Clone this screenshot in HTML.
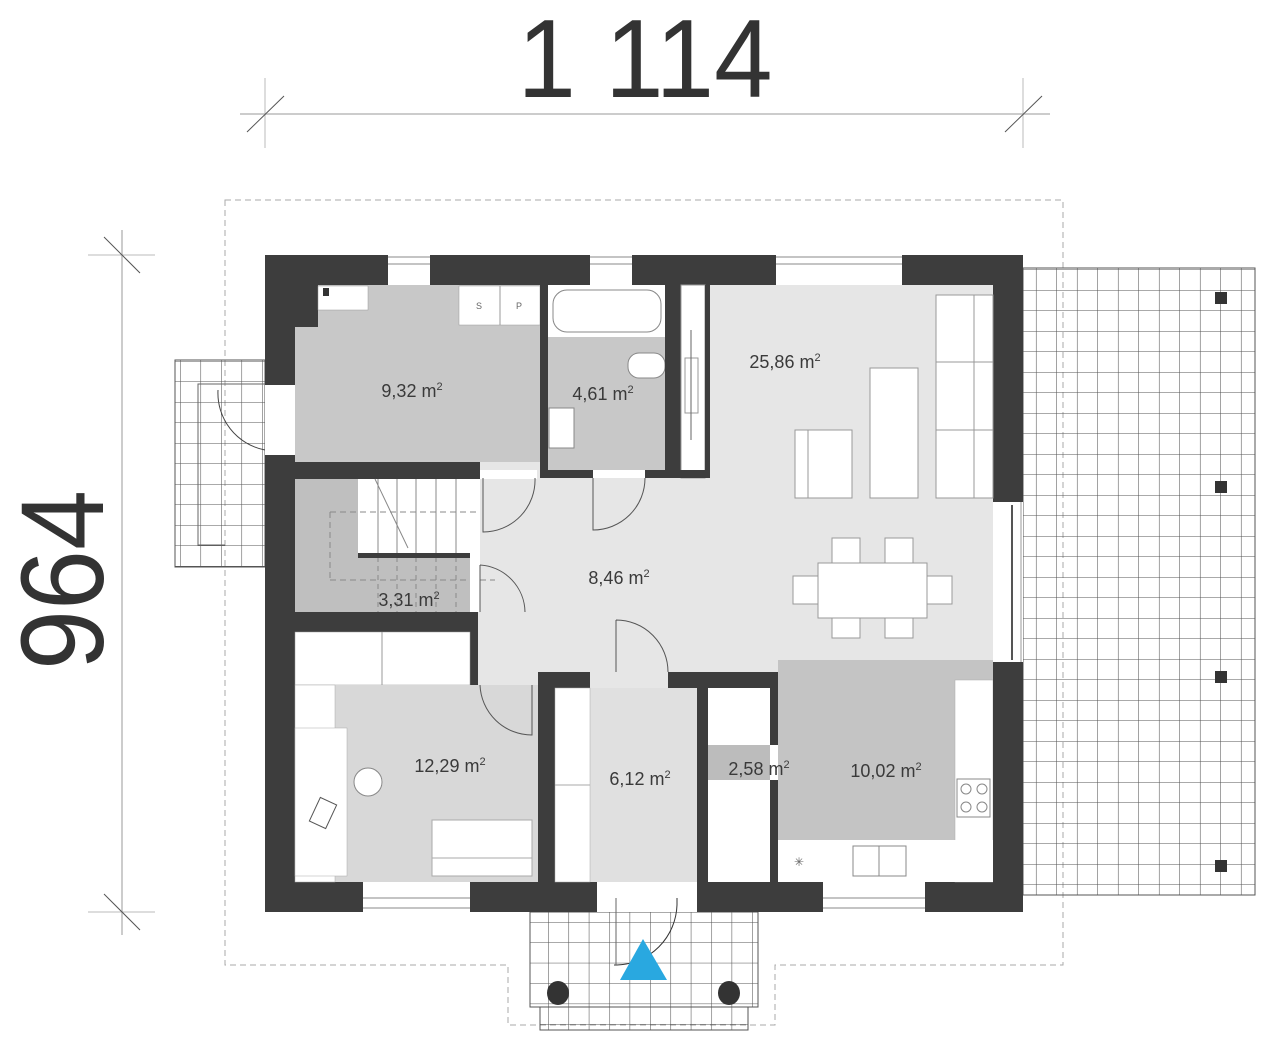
<!DOCTYPE html>
<html><head><meta charset="utf-8"><style>
html,body{margin:0;padding:0;background:#fff;}
svg{display:block;font-family:"Liberation Sans",sans-serif;}
</style></head><body>
<svg width="1280" height="1049" viewBox="0 0 1280 1049" xmlns="http://www.w3.org/2000/svg">
<defs>
<pattern id="g" x="1016" y="270" width="20.5" height="20.5" patternUnits="userSpaceOnUse">
<path d="M20.5 0V20.5M0 20.5H20.5" stroke="#555" stroke-width="1.1" fill="none"/>
</pattern>
<pattern id="g2" x="180" y="361" width="20.5" height="20.5" patternUnits="userSpaceOnUse">
<path d="M0 0V20.5M0 0H20.5" stroke="#555" stroke-width="1.1" fill="none"/>
</pattern>
<pattern id="g3" x="548" y="922" width="20.4" height="20.4" patternUnits="userSpaceOnUse">
<path d="M0 0V20.4M0 0H20.4" stroke="#555" stroke-width="1.1" fill="none"/>
</pattern>
</defs>
<!-- dimensions -->
<text x="645" y="97" font-size="111" text-anchor="middle" fill="#333" textLength="255" lengthAdjust="spacingAndGlyphs">1 114</text>
<line x1="240" y1="114" x2="1050" y2="114" stroke="#ccc" stroke-width="2"/>
<line x1="265" y1="78" x2="265" y2="148" stroke="#bbb"/>
<line x1="1023" y1="78" x2="1023" y2="148" stroke="#bbb"/>
<line x1="247" y1="132" x2="284" y2="96" stroke="#555"/>
<line x1="1005" y1="132" x2="1042" y2="96" stroke="#555"/>
<text transform="translate(103,580) rotate(-90)" font-size="118" text-anchor="middle" fill="#333" textLength="180" lengthAdjust="spacingAndGlyphs">964</text>
<line x1="122" y1="230" x2="122" y2="935" stroke="#ccc" stroke-width="2"/>
<line x1="88" y1="255" x2="155" y2="255" stroke="#bbb"/>
<line x1="88" y1="912" x2="155" y2="912" stroke="#bbb"/>
<line x1="104" y1="237" x2="140" y2="273" stroke="#555"/>
<line x1="104" y1="894" x2="140" y2="930" stroke="#555"/>
<!-- dashed roof outline -->
<path d="M225 200H1063V965H775V1025H508V965H225Z" fill="none" stroke="#aaa" stroke-dasharray="6,4"/>
<!-- terraces -->
<rect x="1023" y="268" width="232" height="627" fill="url(#g)" stroke="#555"/>
<rect x="175" y="360" width="90" height="207" fill="url(#g2)" stroke="#555"/>
<path d="M265 384H198V545H225" fill="none" stroke="#666"/>
<path d="M218 390A58 58 0 0 0 265 450" fill="none" stroke="#444"/>
<rect x="530" y="912" width="228" height="95" fill="url(#g3)" stroke="#555"/>
<rect x="540" y="1007" width="208" height="23" fill="url(#g3)" stroke="#555"/>
<g fill="#333">
<rect x="1215" y="292" width="12" height="12"/><rect x="1215" y="481" width="12" height="12"/>
<rect x="1215" y="671" width="12" height="12"/><rect x="1215" y="860" width="12" height="12"/>
<ellipse cx="558" cy="993" rx="11" ry="12"/><ellipse cx="729" cy="993" rx="11" ry="12"/>
</g>
<!-- house outer walls -->
<rect x="265" y="255" width="758" height="657" fill="#3d3d3d"/>
<rect x="295" y="285" width="698" height="597" fill="#e6e6e6"/>
<!-- utility -->
<rect x="295" y="285" width="245" height="177" fill="#c8c8c8"/>
<rect x="295" y="285" width="23" height="42" fill="#3d3d3d"/>
<rect x="318" y="286" width="50" height="24" fill="#fff" stroke="#999" stroke-width=".5"/>
<rect x="323" y="288" width="6" height="8" fill="#333"/>
<rect x="459" y="286" width="81" height="39" fill="#fff" stroke="#999" stroke-width=".5"/>
<line x1="500" y1="286" x2="500" y2="325" stroke="#999"/>
<text x="479" y="309" font-size="9" fill="#666" text-anchor="middle">S</text>
<text x="519" y="309" font-size="9" fill="#666" text-anchor="middle">P</text>
<rect x="265" y="385" width="30" height="70" fill="#fff"/>
<rect x="295" y="462" width="185" height="17" fill="#3d3d3d"/>
<!-- bathroom -->
<rect x="540" y="285" width="8" height="193" fill="#3d3d3d"/>
<rect x="548" y="285" width="117" height="185" fill="#c8c8c8"/>
<rect x="548" y="285" width="117" height="52" fill="#fff"/>
<rect x="553" y="290" width="108" height="42" rx="14" fill="#fff" stroke="#888"/>
<rect x="628" y="353" width="37" height="25" rx="11" fill="#fff" stroke="#888"/>
<rect x="549" y="408" width="25" height="40" fill="#fff" stroke="#888"/>
<rect x="665" y="285" width="16" height="193" fill="#3d3d3d"/>
<rect x="681" y="285" width="24" height="193" fill="#fff" stroke="#999"/>
<rect x="685" y="358" width="13" height="55" fill="#fff" stroke="#999"/>
<line x1="691" y1="330" x2="691" y2="440" stroke="#666"/>
<rect x="705" y="285" width="5" height="193" fill="#3d3d3d"/>
<rect x="540" y="470" width="170" height="8" fill="#3d3d3d"/>
<rect x="593" y="470" width="52" height="8" fill="#fff"/>
<rect x="480" y="470" width="57" height="9" fill="#fff"/>
<path d="M593 478V530A52 52 0 0 0 645 478" fill="none" stroke="#555"/>
<path d="M483 478V532A52 52 0 0 0 535 478" fill="none" stroke="#555"/>
<!-- stairs -->
<rect x="295" y="479" width="185" height="133" fill="#bfbfbf"/>
<rect x="358" y="479" width="122" height="74" fill="#fff"/>
<g stroke="#888" stroke-width="1">
<line x1="378" y1="479" x2="378" y2="553"/><line x1="397" y1="479" x2="397" y2="553"/>
<line x1="416" y1="479" x2="416" y2="553"/><line x1="436" y1="479" x2="436" y2="553"/>
<line x1="456" y1="479" x2="456" y2="553"/>
<line x1="375" y1="479" x2="408" y2="548"/>
<line x1="330" y1="512" x2="480" y2="512" stroke-dasharray="6,4"/>
<line x1="330" y1="512" x2="330" y2="580" stroke-dasharray="6,4"/>
<line x1="330" y1="580" x2="495" y2="580" stroke-dasharray="6,4"/>
<line x1="378" y1="557" x2="378" y2="612" stroke-dasharray="5,4"/>
<line x1="397" y1="557" x2="397" y2="612" stroke-dasharray="5,4"/>
<line x1="416" y1="557" x2="416" y2="612" stroke-dasharray="5,4"/>
<line x1="436" y1="557" x2="436" y2="612" stroke-dasharray="5,4"/>
<line x1="456" y1="557" x2="456" y2="612" stroke-dasharray="5,4"/>
</g>
<rect x="358" y="553" width="112" height="5" fill="#3d3d3d"/>
<rect x="470" y="553" width="10" height="59" fill="#fff"/>
<path d="M480 565V612M480 565A48 48 0 0 1 525 612" fill="none" stroke="#555"/>
<rect x="265" y="612" width="212" height="20" fill="#3d3d3d"/>
<rect x="470" y="612" width="8" height="73" fill="#3d3d3d"/>
<rect x="295" y="632" width="175" height="53" fill="#fff" stroke="#999" stroke-width=".5"/>
<line x1="382" y1="632" x2="382" y2="685" stroke="#999"/>
<!-- office -->
<rect x="295" y="685" width="243" height="197" fill="#d8d8d8"/>
<rect x="295" y="685" width="40" height="197" fill="#fff" stroke="#aaa" stroke-width=".5"/>
<rect x="295" y="728" width="52" height="148" fill="#fff" stroke="#aaa" stroke-width=".5"/>
<circle cx="368" cy="782" r="14" fill="#fff" stroke="#888"/>
<rect x="314" y="800" width="18" height="26" fill="#fff" stroke="#555" transform="rotate(25 323 813)"/>
<rect x="432" y="820" width="100" height="56" fill="#fff" stroke="#aaa"/>
<line x1="432" y1="858" x2="532" y2="858" stroke="#aaa"/>
<path d="M480 685A52 52 0 0 0 532 735V685" fill="none" stroke="#555"/>
<rect x="538" y="672" width="17" height="210" fill="#3d3d3d"/>
<rect x="538" y="672" width="52" height="16" fill="#3d3d3d"/>
<rect x="668" y="672" width="110" height="16" fill="#3d3d3d"/>
<path d="M616 620V672M616 620A52 52 0 0 1 668 672" fill="none" stroke="#555"/>
<!-- 6,12 -->
<rect x="555" y="688" width="142" height="194" fill="#e0e0e0"/>
<rect x="555" y="688" width="35" height="194" fill="#fff" stroke="#aaa" stroke-width=".5"/>
<line x1="555" y1="785" x2="590" y2="785" stroke="#aaa"/>
<rect x="697" y="672" width="11" height="210" fill="#3d3d3d"/>
<!-- 2,58 -->
<rect x="708" y="688" width="62" height="194" fill="#fff"/>
<rect x="708" y="745" width="62" height="35" fill="#bcbcbc"/>
<rect x="770" y="688" width="8" height="194" fill="#3d3d3d"/>
<rect x="770" y="745" width="8" height="35" fill="#fff"/>
<path d="M778 745H825A45 45 0 0 1 778 790" fill="none" stroke="#555"/>
<!-- kitchen -->
<rect x="778" y="660" width="215" height="222" fill="#c4c4c4"/>
<rect x="955" y="680" width="38" height="202" fill="#fff" stroke="#aaa" stroke-width=".5"/>
<rect x="778" y="840" width="215" height="42" fill="#fff"/>
<rect x="853" y="846" width="53" height="30" fill="#fff" stroke="#888"/>
<line x1="879" y1="846" x2="879" y2="876" stroke="#888"/>
<rect x="957" y="779" width="33" height="38" fill="#fff" stroke="#888"/>
<circle cx="966" cy="789" r="5" fill="none" stroke="#888"/><circle cx="982" cy="789" r="5" fill="none" stroke="#888"/>
<circle cx="966" cy="807" r="5" fill="none" stroke="#888"/><circle cx="982" cy="807" r="5" fill="none" stroke="#888"/>
<text x="799" y="866" font-size="12" fill="#666" text-anchor="middle">✳</text>
<rect x="993" y="660" width="30" height="252" fill="#3d3d3d"/>
<!-- living furniture -->
<rect x="936" y="295" width="57" height="203" fill="#fff" stroke="#999"/>
<line x1="936" y1="362" x2="993" y2="362" stroke="#999"/><line x1="936" y1="430" x2="993" y2="430" stroke="#999"/>
<line x1="974" y1="295" x2="974" y2="498" stroke="#999"/>
<rect x="870" y="368" width="48" height="130" fill="#fff" stroke="#999"/>
<rect x="795" y="430" width="57" height="68" fill="#fff" stroke="#999"/>
<line x1="808" y1="430" x2="808" y2="498" stroke="#999"/>
<g fill="#fff" stroke="#999">
<rect x="832" y="538" width="28" height="30"/><rect x="885" y="538" width="28" height="30"/>
<rect x="832" y="608" width="28" height="30"/><rect x="885" y="608" width="28" height="30"/>
<rect x="793" y="576" width="30" height="28"/><rect x="922" y="576" width="30" height="28"/>
<rect x="818" y="563" width="109" height="55"/>
</g>
<rect x="993" y="502" width="30" height="160" fill="#fff"/>
<line x1="1012" y1="505" x2="1012" y2="660" stroke="#555" stroke-width="2"/>
<line x1="1021" y1="502" x2="1021" y2="662" stroke="#999"/>
<!-- windows -->
<g fill="#fff" stroke="#888">
<rect x="388" y="255" width="42" height="30" stroke="none"/><line x1="388" y1="264" x2="430" y2="264"/><line x1="388" y1="257" x2="430" y2="257"/>
<rect x="590" y="255" width="42" height="30" stroke="none"/><line x1="590" y1="264" x2="632" y2="264"/><line x1="590" y1="257" x2="632" y2="257"/>
<rect x="776" y="255" width="126" height="30" stroke="none"/><line x1="776" y1="264" x2="902" y2="264"/><line x1="776" y1="257" x2="902" y2="257"/>
<rect x="363" y="882" width="107" height="30" stroke="none"/><line x1="363" y1="898" x2="470" y2="898"/><line x1="363" y1="908" x2="470" y2="908"/>
<rect x="823" y="882" width="102" height="30" stroke="none"/><line x1="823" y1="898" x2="925" y2="898"/><line x1="823" y1="908" x2="925" y2="908"/>
<rect x="597" y="882" width="100" height="30" stroke="none"/>
</g>
<path d="M677 898V905A62 62 0 0 1 617 965H614" fill="none" stroke="#333"/>
<line x1="616" y1="898" x2="616" y2="965" stroke="#666"/>
<polygon points="643,939 620,980 667,980" fill="#29a8e0"/>
<!-- labels -->
<g font-size="18" fill="#3a3a3a" text-anchor="middle">
<text x="412" y="397">9,32 m<tspan font-size="11" dy="-7">2</tspan></text>
<text x="603" y="400">4,61 m<tspan font-size="11" dy="-7">2</tspan></text>
<text x="785" y="368">25,86 m<tspan font-size="11" dy="-7">2</tspan></text>
<text x="619" y="584">8,46 m<tspan font-size="11" dy="-7">2</tspan></text>
<text x="409" y="606">3,31 m<tspan font-size="11" dy="-7">2</tspan></text>
<text x="450" y="772">12,29 m<tspan font-size="11" dy="-7">2</tspan></text>
<text x="640" y="785">6,12 m<tspan font-size="11" dy="-7">2</tspan></text>
<text x="759" y="775">2,58 m<tspan font-size="11" dy="-7">2</tspan></text>
<text x="886" y="777">10,02 m<tspan font-size="11" dy="-7">2</tspan></text>
</g>
</svg>
</body></html>
